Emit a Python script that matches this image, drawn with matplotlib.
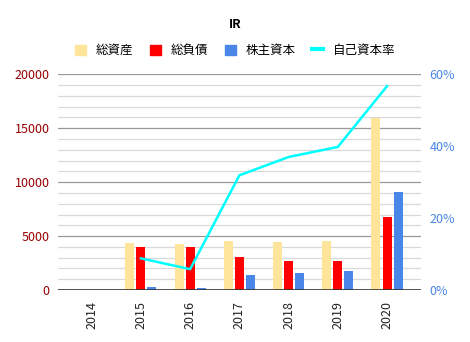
import numpy as np
import matplotlib
matplotlib.use("Agg")
from matplotlib import pyplot as plt
from matplotlib.ticker import MultipleLocator, FuncFormatter
from matplotlib.lines import Line2D
from matplotlib.patches import Patch

plt.rcParams['font.family'] = ['Noto Sans CJK JP', 'DejaVu Sans']

years = ["2014", "2015", "2016", "2017", "2018", "2019", "2020"]
total_assets = [0, 4320, 4230, 4540, 4440, 4540, 15990]
total_liab = [0, 3950, 3950, 3030, 2690, 2690, 6730]
equity = [0, 250, 185, 1360, 1550, 1760, 9050]
equity_ratio = [np.nan, 8.8, 5.8, 31.9, 37.0, 39.8, 56.7]

c_assets = "#ffe599"
c_liab = "#ff0000"
c_eq = "#4a86e8"
c_ratio = "#00ffff"

fig = plt.figure(figsize=(4.7, 3.42), dpi=100)
ax = fig.add_axes([0.1234, 0.152, 0.7723, 0.6307])
x = np.arange(len(years))
w = 0.183
off = 0.224

ax.bar(x - off, total_assets, w, color=c_assets, zorder=3)
ax.bar(x, total_liab, w, color=c_liab, zorder=3)
ax.bar(x + off, equity, w, color=c_eq, zorder=3)

ax.set_ylim(0, 20000)
ax.set_xlim(-0.685, 6.69)
ax.yaxis.set_major_locator(MultipleLocator(5000))
ax.yaxis.set_minor_locator(MultipleLocator(1000))
ax.grid(which="minor", axis="y", color="#d9d9d9", lw=0.9, zorder=0)
ax.grid(which="major", axis="y", color="#999999", lw=0.9, zorder=0)
ax.axhline(0, color="#333333", lw=1.2, zorder=4)
for s in ax.spines.values():
    s.set_visible(False)
ax.tick_params(axis="y", which="both", length=0, labelcolor="#990000", labelsize=9, pad=6)
ax.set_xticks(x)
ax.set_xticklabels(years, rotation=90, fontsize=9, color="#222222")
ax.tick_params(axis="x", length=0, pad=8)

ax2 = ax.twinx()
ax2.plot(x, equity_ratio, color=c_ratio, lw=1.8, zorder=5)
ax2.set_ylim(0, 60)
ax2.yaxis.set_major_locator(MultipleLocator(20))
ax2.yaxis.set_major_formatter(FuncFormatter(lambda v, p: f"{v:.0f}%"))
ax2.tick_params(axis="y", length=0, labelcolor="#4a86e8", labelsize=9, pad=6)
for s in ax2.spines.values():
    s.set_visible(False)

fig.text(0.5, 0.928, "IR", ha="center", va="center", fontsize=9, fontweight="bold")

handles = [Patch(color=c_assets), Patch(color=c_liab), Patch(color=c_eq),
           Line2D([0], [0], color=c_ratio, lw=3)]
labels = ["総資産", "総負債", "株主資本", "自己資本率"]
fig.legend(handles, labels, loc="center", bbox_to_anchor=(0.5, 0.852), ncol=4,
           frameon=False, fontsize=9, handlelength=0.9, handleheight=0.9,
           columnspacing=1.35, handletextpad=0.75)

fig.savefig("out.png", dpi=100)
